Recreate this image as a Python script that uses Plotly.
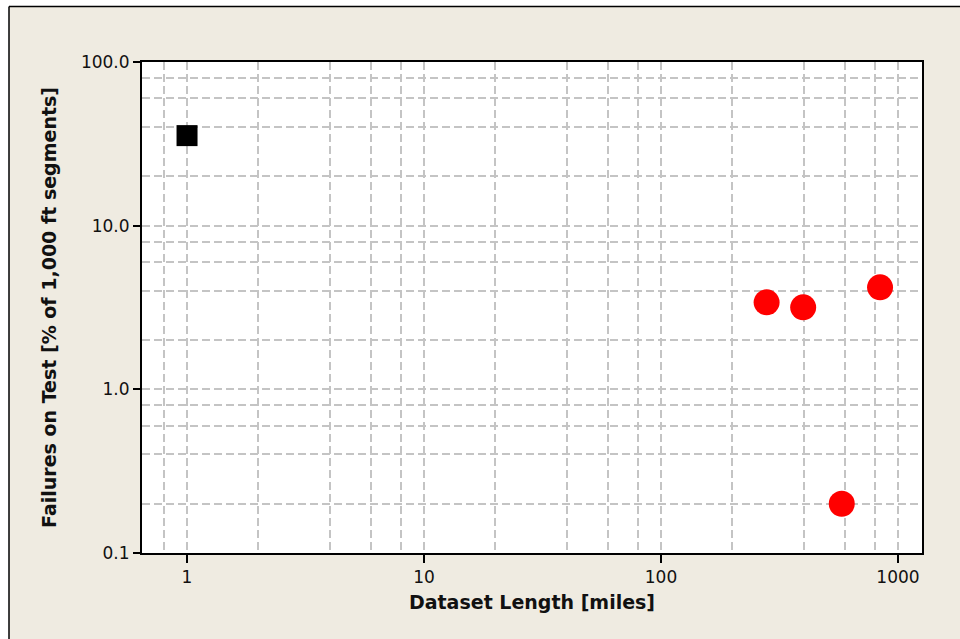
import plotly.graph_objects as go

# Reference dataset (single short section)
ref_length = [1.0]
ref_failures = [35.5]

# Field datasets
field_length = [279, 398, 579, 840]
field_failures = [3.4, 3.17, 0.2, 4.2]

x_major = [1, 10, 100, 1000]
x_major_text = ["1", "10", "100", "1000"]
x_minor = [0.8, 2, 4, 6, 8, 20, 40, 60, 80, 200, 400, 600, 800]

y_major = [0.1, 1, 10, 100]
y_major_text = ["0.1", "1.0", "10.0", "100.0"]
y_minor = [0.2, 0.4, 0.6, 0.8, 2, 4, 6, 8, 20, 40, 60, 80]

BEIGE = "#efebe1"
GRID = "#c4c4c4"
FONT = "DejaVu Sans"

fig = go.Figure()
fig.add_trace(go.Scatter(
    x=field_length, y=field_failures, mode="markers",
    marker=dict(symbol="circle", size=26, color="#ff0000", line=dict(width=0)),
    showlegend=False,
))
fig.add_trace(go.Scatter(
    x=ref_length, y=ref_failures, mode="markers",
    marker=dict(symbol="square", size=21, color="#000000", line=dict(width=0)),
    showlegend=False,
))

L, R, T, B = 142, 38, 62, 86
W, H = 960, 639
pw, ph = W - L - R, H - T - B

axis_common = dict(
    showline=True, linecolor="black", linewidth=2, mirror=True,
    ticks="outside", tickcolor="black", tickwidth=2,
    showgrid=True, gridcolor=GRID, gridwidth=1.5, griddash="8px,4px",
    zeroline=False,
    tickfont=dict(family=FONT, size=17, color="#111111"),
)

fig.update_xaxes(
    type="log", range=[-0.19, 3.1013],
    tickmode="array", tickvals=x_major, ticktext=x_major_text, ticklen=8,
    minor=dict(tickmode="array", tickvals=x_minor, ticks="", showgrid=True,
               gridcolor=GRID, gridwidth=1.5, griddash="8px,4px"),
    title=dict(text="<b>Dataset Length [miles]</b>", standoff=9,
               font=dict(family=FONT, size=19, color="#111111")),
    **axis_common,
)
fig.update_yaxes(
    type="log", range=[-1, 2],
    tickmode="array", tickvals=y_major, ticktext=y_major_text, ticklen=7,
    minor=dict(tickmode="array", tickvals=y_minor, ticks="", showgrid=True,
               gridcolor=GRID, gridwidth=1.5, griddash="8px,4px"),
    title=dict(text="<b>Failures on Test [% of 1,000 ft segments]</b>", standoff=19,
               font=dict(family=FONT, size=19, color="#111111")),
    **axis_common,
)

# frame around the figure: white strip, then a black border on the left and top
bx = (9 - L) / pw
by = 1 + (T - 6.5) / ph
fig.add_shape(type="rect", xref="paper", yref="paper",
              x0=(0 - L) / pw, x1=(W + 10 - L) / pw, y0=by, y1=1 + (T + 5) / ph,
              fillcolor="white", line=dict(width=0), layer="above")
fig.add_shape(type="rect", xref="paper", yref="paper",
              x0=(0 - L) / pw - 0.05, x1=bx, y0=-0.3, y1=1 + (T + 5) / ph,
              fillcolor="white", line=dict(width=0), layer="above")
fig.add_shape(type="line", xref="paper", yref="paper",
              x0=bx, x1=(W + 10 - L) / pw, y0=by, y1=by,
              line=dict(color="black", width=1.5), layer="above")
fig.add_shape(type="line", xref="paper", yref="paper",
              x0=bx, x1=bx, y0=by, y1=-0.3,
              line=dict(color="black", width=1.5), layer="above")

fig.update_layout(
    width=W, height=H,
    margin=dict(l=L, r=R, t=T, b=B),
    paper_bgcolor=BEIGE, plot_bgcolor="white",
    font=dict(family=FONT, color="#111111"),
)

fig.write_html("out.html")
